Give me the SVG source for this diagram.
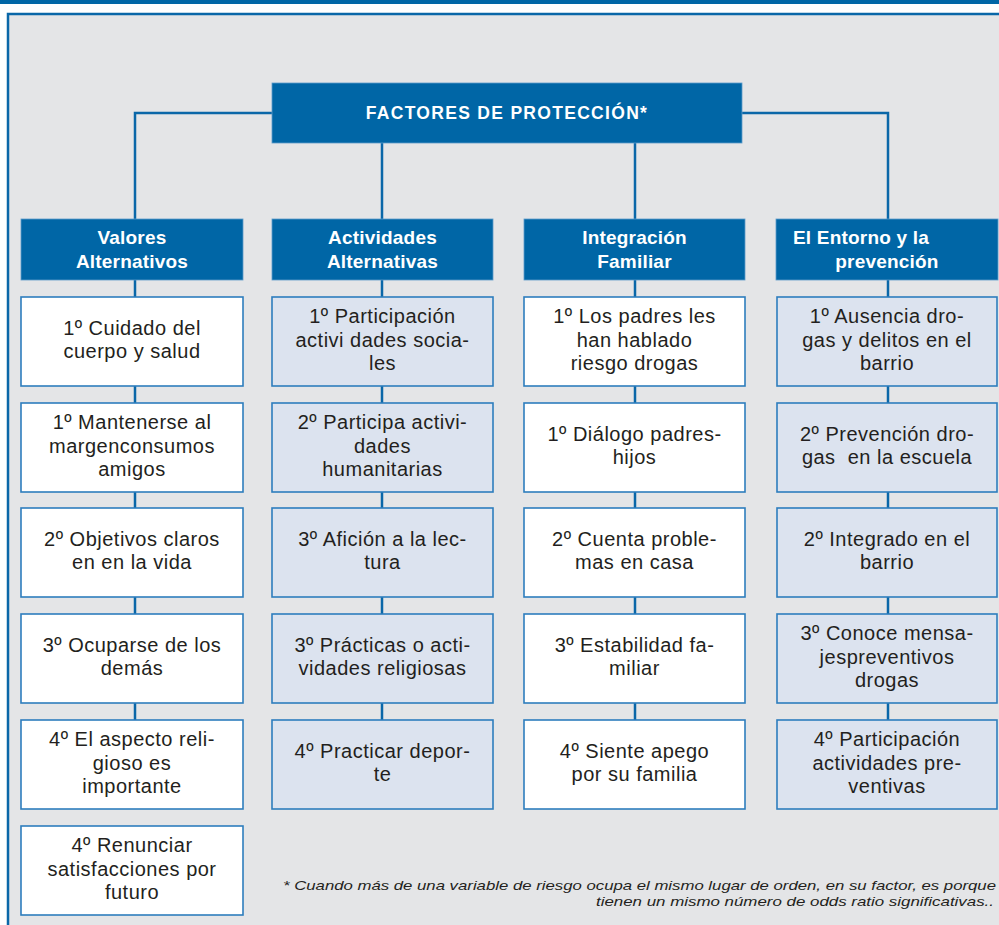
<svg xmlns="http://www.w3.org/2000/svg" width="999" height="925" viewBox="0 0 999 925">
<style>
.frame{fill:#e4e5e7;stroke:#0a67a8;stroke-width:2.5}
.hdr{fill:#0066a6;stroke:#5c9ccb;stroke-width:0.8}
.ht{font-family:"Liberation Sans",Arial,sans-serif;font-weight:bold;fill:#ffffff;text-anchor:middle}
.ch{font-size:19px;letter-spacing:0.2px}
.bw{fill:#ffffff;stroke:#2d7dbd;stroke-width:1.6}
.bb{fill:#dce3ef;stroke:#2d7dbd;stroke-width:1.6}
.bt{font-family:"Liberation Sans",Arial,sans-serif;font-size:20px;letter-spacing:0.5px;fill:#231f20;text-anchor:middle}
.ln{stroke:#0a67a8;stroke-width:2.5;fill:none}
.fn{font-family:"Liberation Sans",Arial,sans-serif;font-style:italic;font-size:13.5px;fill:#231f20;text-anchor:end}
</style>
<rect x="0" y="0" width="999" height="4" fill="#0066a6"/>
<rect class="frame" x="8" y="14" width="1100" height="1000"/>
<g id="connectors">
<polyline class="ln" points="272,113 135,113 135,219"/>
<polyline class="ln" points="742,113 888,113 888,219"/>
<line class="ln" x1="382" y1="143" x2="382" y2="219"/>
<line class="ln" x1="635" y1="143" x2="635" y2="219"/>
<line class="ln" x1="135" y1="280" x2="135" y2="720"/>
<line class="ln" x1="382" y1="280" x2="382" y2="720"/>
<line class="ln" x1="635" y1="280" x2="635" y2="720"/>
<line class="ln" x1="888" y1="280" x2="888" y2="720"/>
</g>
<g id="root">
<rect class="hdr" x="272" y="83" width="470" height="60"/>
<text class="ht" x="507" y="119" font-size="17.5" letter-spacing="1.3">FACTORES DE PROTECCIÓN*</text>
</g>
<g id="col1-header">
<rect class="hdr" x="21" y="219" width="222" height="61"/>
<text class="ht ch" x="132" y="244">Valores</text>
<text class="ht ch" x="132" y="268">Alternativos</text>
</g>
<g id="col2-header">
<rect class="hdr" x="272" y="219" width="221" height="61"/>
<text class="ht ch" x="382.5" y="244">Actividades</text>
<text class="ht ch" x="382.5" y="268">Alternativas</text>
</g>
<g id="col3-header">
<rect class="hdr" x="524" y="219" width="221" height="61"/>
<text class="ht ch" x="634.5" y="244">Integración</text>
<text class="ht ch" x="634.5" y="268">Familiar</text>
</g>
<g id="col4-header">
<rect class="hdr" x="776" y="219" width="222" height="61"/>
<text class="ht ch" x="793" y="244" style="text-anchor:start">El Entorno y la</text>
<text class="ht ch" x="887" y="268">prevención</text>
</g>

<g id="c1b1"><rect class="bw" x="21" y="297" width="222" height="89"/>
<text class="bt" x="132" y="335">1º Cuidado del</text><text class="bt" x="132" y="358">cuerpo y salud</text></g>
<g id="c1b2"><rect class="bw" x="21" y="403" width="222" height="89"/>
<text class="bt" x="132" y="429">1º Mantenerse al</text><text class="bt" x="132" y="453">margenconsumos</text><text class="bt" x="132" y="476">amigos</text></g>
<g id="c1b3"><rect class="bw" x="21" y="508" width="222" height="89"/>
<text class="bt" x="132" y="546">2º Objetivos claros</text><text class="bt" x="132" y="569">en en la vida</text></g>
<g id="c1b4"><rect class="bw" x="21" y="614" width="222" height="89"/>
<text class="bt" x="132" y="652">3º Ocuparse de los</text><text class="bt" x="132" y="675">demás</text></g>
<g id="c1b5"><rect class="bw" x="21" y="720" width="222" height="89"/>
<text class="bt" x="132" y="746">4º El aspecto reli-</text><text class="bt" x="132" y="770">gioso es</text><text class="bt" x="132" y="793">importante</text></g>
<g id="c1b6"><rect class="bw" x="21" y="826" width="222" height="89"/>
<text class="bt" x="132" y="852">4º Renunciar</text><text class="bt" x="132" y="876">satisfacciones por</text><text class="bt" x="132" y="899">futuro</text></g>

<g id="c2b1"><rect class="bb" x="272" y="297" width="221" height="89"/>
<text class="bt" x="382.5" y="323">1º Participación</text><text class="bt" x="382.5" y="347">activi dades socia-</text><text class="bt" x="382.5" y="370">les</text></g>
<g id="c2b2"><rect class="bb" x="272" y="403" width="221" height="89"/>
<text class="bt" x="382.5" y="429">2º Participa activi-</text><text class="bt" x="382.5" y="453">dades</text><text class="bt" x="382.5" y="476">humanitarias</text></g>
<g id="c2b3"><rect class="bb" x="272" y="508" width="221" height="89"/>
<text class="bt" x="382.5" y="546">3º Afición a la lec-</text><text class="bt" x="382.5" y="569">tura</text></g>
<g id="c2b4"><rect class="bb" x="272" y="614" width="221" height="89"/>
<text class="bt" x="382.5" y="652">3º Prácticas o acti-</text><text class="bt" x="382.5" y="675">vidades religiosas</text></g>
<g id="c2b5"><rect class="bb" x="272" y="720" width="221" height="89"/>
<text class="bt" x="382.5" y="758">4º Practicar depor-</text><text class="bt" x="382.5" y="781">te</text></g>

<g id="c3b1"><rect class="bw" x="524" y="297" width="221" height="89"/>
<text class="bt" x="634.5" y="323">1º Los padres les</text><text class="bt" x="634.5" y="347">han hablado</text><text class="bt" x="634.5" y="370">riesgo drogas</text></g>
<g id="c3b2"><rect class="bw" x="524" y="403" width="221" height="89"/>
<text class="bt" x="634.5" y="441">1º Diálogo padres-</text><text class="bt" x="634.5" y="464">hijos</text></g>
<g id="c3b3"><rect class="bw" x="524" y="508" width="221" height="89"/>
<text class="bt" x="634.5" y="546">2º Cuenta proble-</text><text class="bt" x="634.5" y="569">mas en casa</text></g>
<g id="c3b4"><rect class="bw" x="524" y="614" width="221" height="89"/>
<text class="bt" x="634.5" y="652">3º Estabilidad fa-</text><text class="bt" x="634.5" y="675">miliar</text></g>
<g id="c3b5"><rect class="bw" x="524" y="720" width="221" height="89"/>
<text class="bt" x="634.5" y="758">4º Siente apego</text><text class="bt" x="634.5" y="781">por su familia</text></g>

<g id="c4b1"><rect class="bb" x="777" y="297" width="220" height="89"/>
<text class="bt" x="887" y="323">1º Ausencia dro-</text><text class="bt" x="887" y="347">gas y delitos en el</text><text class="bt" x="887" y="370">barrio</text></g>
<g id="c4b2"><rect class="bb" x="777" y="403" width="220" height="89"/>
<text class="bt" x="887" y="441">2º Prevención dro-</text><text class="bt" x="887" y="464" xml:space="preserve">gas  en la escuela</text></g>
<g id="c4b3"><rect class="bb" x="777" y="508" width="220" height="89"/>
<text class="bt" x="887" y="546">2º Integrado en el</text><text class="bt" x="887" y="569">barrio</text></g>
<g id="c4b4"><rect class="bb" x="777" y="614" width="220" height="89"/>
<text class="bt" x="887" y="640">3º Conoce mensa-</text><text class="bt" x="887" y="664">jespreventivos</text><text class="bt" x="887" y="687">drogas</text></g>
<g id="c4b5"><rect class="bb" x="777" y="720" width="220" height="89"/>
<text class="bt" x="887" y="746">4º Participación</text><text class="bt" x="887" y="770">actividades pre-</text><text class="bt" x="887" y="793">ventivas</text></g>

<g id="footnote">
<text class="fn" x="996" y="890" textLength="713" lengthAdjust="spacingAndGlyphs">* Cuando más de una variable de riesgo ocupa el mismo lugar de orden, en su factor, es porque</text>
<text class="fn" x="994" y="906" textLength="398" lengthAdjust="spacingAndGlyphs">tienen un mismo número de odds ratio significativas..</text>
</g>
</svg>
